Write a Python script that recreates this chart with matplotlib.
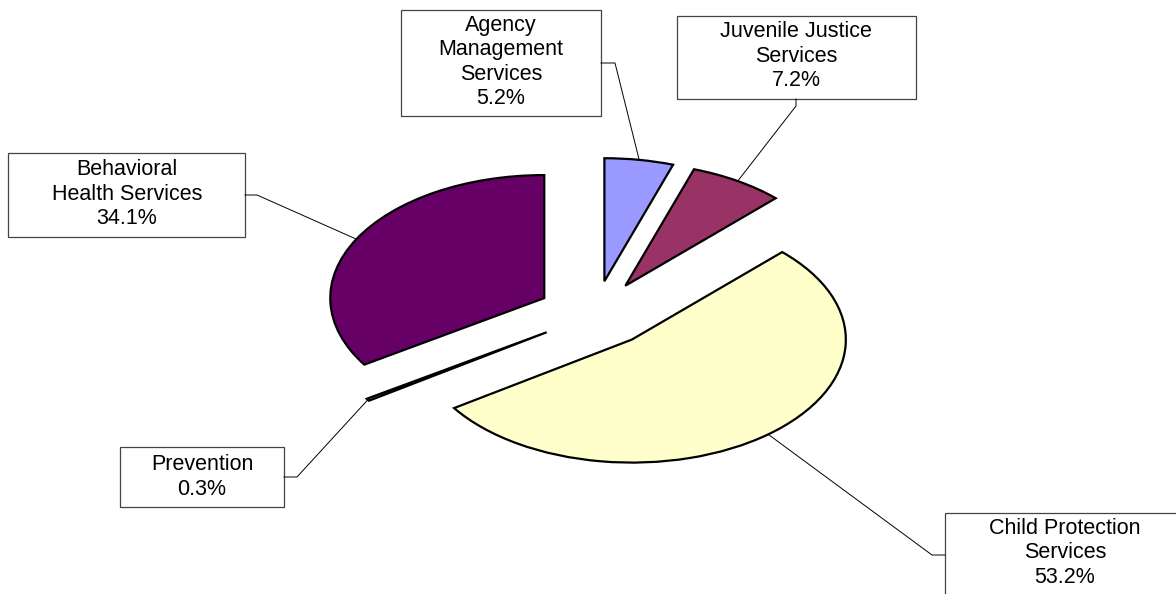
import numpy as np
import matplotlib.pyplot as plt
from matplotlib.patches import Rectangle

plt.rcParams['font.family'] = ['Liberation Sans', 'DejaVu Sans']

categories = ['Agency\nManagement\nServices', 'Juvenile Justice\nServices',
              'Child Protection\nServices', 'Prevention', 'Behavioral\nHealth Services']
shares = [5.2, 7.2, 53.2, 0.3, 34.1]
colors = ['#9999FF', '#993366', '#FFFFCC', '#669999', '#660066']

W, H = 1176, 594
# pie centre and radii in pixels (the pie is squashed into an ellipse)
cx, cy = 595, 314
rx, ry = 214, 123
explode = 0.27

# label boxes (x0, y0, x1, y1) in pixels, text centre, and the elbow of each leader line
boxes = [(401, 10, 601, 116), (677, 16, 916, 99), (945, 513, 1185, 600),
         (120, 447, 284, 507), (8, 153, 245, 237)]
text_pos = [(501, 62), (796, 56), (1065, 553), (202, 477), (127, 194)]
box_ends = [((601, 63), (615, 63)), ((796, 99), (796, 106)), ((945, 555), (932, 555)),
            ((284, 477), (297, 477)), ((245, 195), (257, 195))]

fig = plt.figure(figsize=(W / 100, H / 100), dpi=100)

ax = fig.add_axes([0, 0, 1, 1])
wedges, _ = ax.pie(shares, colors=colors, startangle=90, counterclock=False,
                   explode=[explode] * len(shares), radius=1,
                   wedgeprops=dict(edgecolor='black', linewidth=1.6))
ax.set_aspect('auto')
ax.set_xlim(-cx / rx, (W - cx) / rx)
ax.set_ylim(-(H - cy) / ry, cy / ry)
ax.axis('off')

ov = fig.add_axes([0, 0, 1, 1])
ov.set_xlim(0, W)
ov.set_ylim(H, 0)
ov.axis('off')

for i, w in enumerate(wedges):
    # leader line ends on the middle of the wedge's arc
    mid = np.deg2rad((w.theta1 + w.theta2) / 2)
    px = cx + (w.center[0] + w.r * np.cos(mid)) * rx
    py = cy - (w.center[1] + w.r * np.sin(mid)) * ry
    (x0, y0), (x1, y1) = box_ends[i]
    ov.plot([x0, x1, px], [y0, y1, py], color='black', lw=0.7)

    bx0, by0, bx1, by1 = boxes[i]
    ov.add_patch(Rectangle((bx0, by0), bx1 - bx0, by1 - by0, facecolor='white',
                           edgecolor='#444444', lw=0.9))
    tx, ty = text_pos[i]
    ov.text(tx, ty, f'{categories[i]}\n{shares[i]:.1f}%', ha='center', va='center',
            fontsize=15.5, linespacing=1.22, color='black')

fig.savefig('out.png', dpi=100, facecolor='white')
